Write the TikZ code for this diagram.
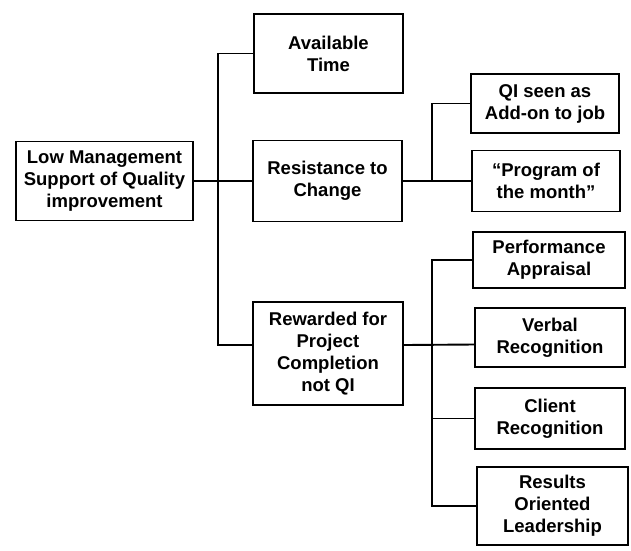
\documentclass[tikz,border=0pt]{standalone}
\usepackage{fontspec}
\setmainfont{Liberation Sans}
\begin{document}
\begin{tikzpicture}[x=1pt,y=-1pt,
  box/.style={draw=black, line width=1.9pt, align=center, inner sep=2pt,
    font=\bfseries\fontsize{18.5}{22}\selectfont},
  conn/.style={draw=black, line width=1.9pt}]
\useasboundingbox[fill=white] (0,0) rectangle (631,550);

% root cause
\node[box, minimum width=177pt, minimum height=79pt] (root) at (104.5,181)
  {Low Management\\Support of Quality\\improvement};

% first-level causes
\node[box, minimum width=149pt, minimum height=79pt] (avail) at (328.5,53.5)
  {Available\\Time};
\node[box, minimum width=149pt, minimum height=81pt] (resist) at (327.5,181)
  {Resistance to\\Change};
\node[box, minimum width=150pt, minimum height=103pt] (reward) at (328,353.5)
  {Rewarded for\\Project\\Completion\\not QI};

% causes of resistance
\node[box, minimum width=148pt, minimum height=59pt] (qi) at (545,103.5)
  {QI seen as\\Add-on to job};
\node[box, minimum width=148pt, minimum height=61pt] (prog) at (546,181)
  {“Program of\\the month”};

% causes of the reward problem
\node[box, minimum width=152pt, minimum height=56pt] (perf) at (549,260)
  {Performance\\Appraisal};
\node[box, minimum width=150pt, minimum height=59pt] (verbal) at (550,337.5)
  {Verbal\\Recognition};
\node[box, minimum width=150pt, minimum height=61pt] (client) at (550,418.5)
  {Client\\Recognition};
\node[box, minimum width=151pt, minimum height=78pt] (results) at (552.5,506)
  {Results\\Oriented\\Leadership};

% trunk positions
\coordinate (trunkA) at (218,0);
\coordinate (trunkB) at (432,0);
\coordinate (rwL) at ([yshift=8.5pt]reward.west);
\coordinate (rwR) at ([yshift=8.5pt]reward.east);
\coordinate (vbL) at ([yshift=-7pt]verbal.west);

% level one connectors
\draw[conn] (root.east) -- (resist.west);
\draw[conn] (avail.west) -- (avail.west -| trunkA) -- (rwL -| trunkA) -- (rwL);

% resistance connectors
\draw[conn] (resist.east) -- (prog.west);
\draw[conn] (qi.west) -- (qi.west -| trunkB) -- (prog.west -| trunkB);

% reward connectors
\draw[conn] (rwR) -- (vbL);
\draw[conn] (perf.west) -- (perf.west -| trunkB) -- (results.west -| trunkB) -- (results.west);
\draw[conn] (client.west -| trunkB) -- (client.west);
\end{tikzpicture}
\end{document}
